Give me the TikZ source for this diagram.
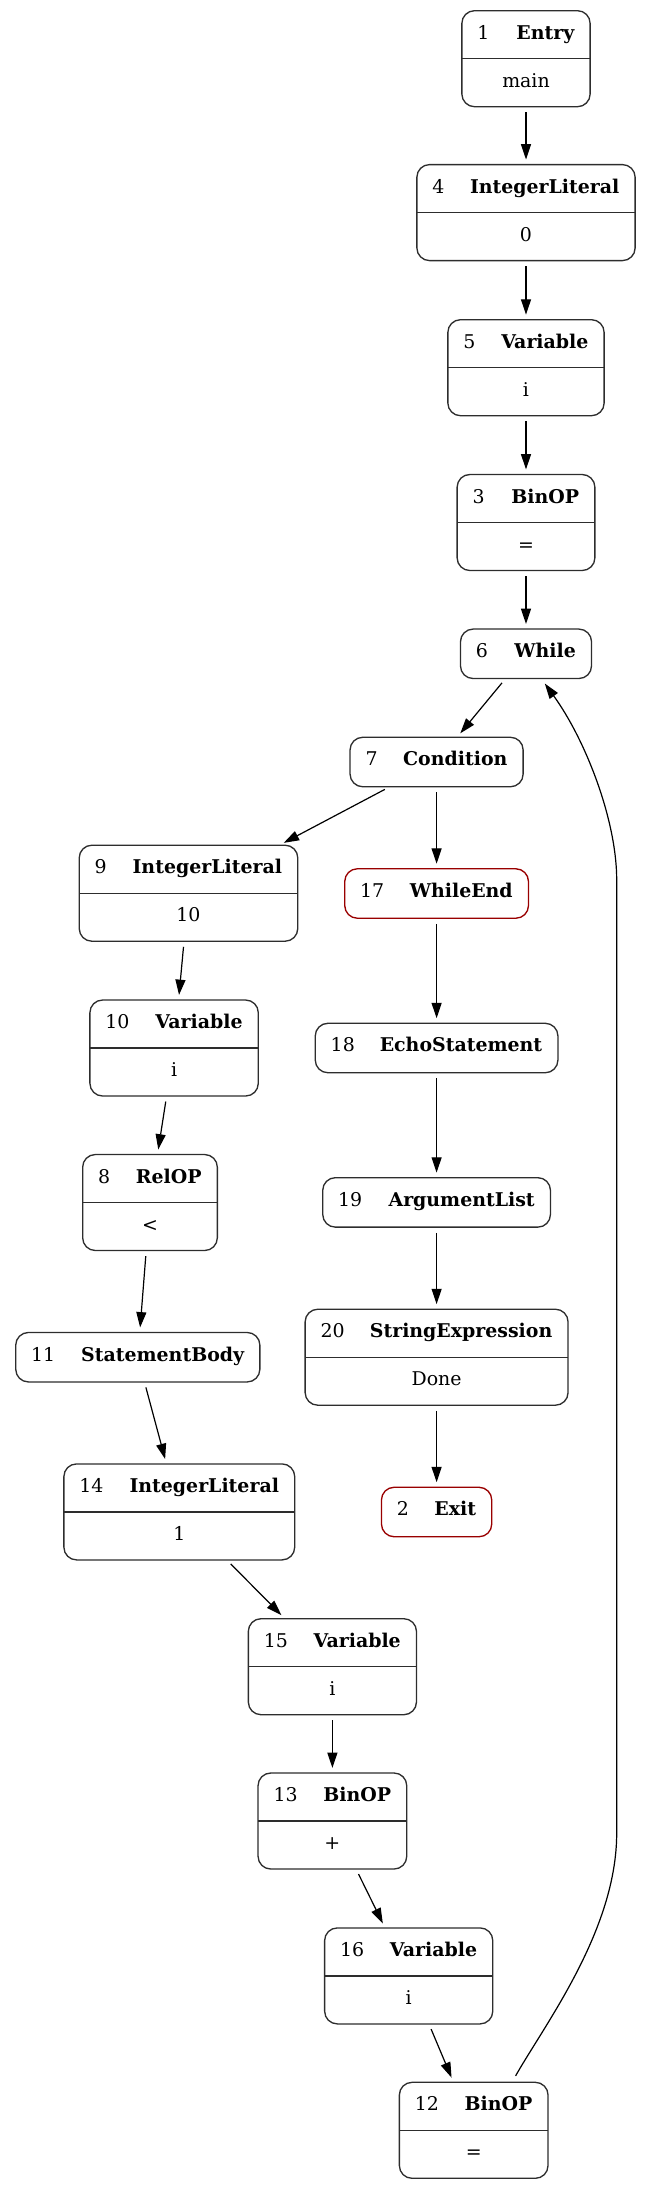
\documentclass[tikz,border=0pt]{standalone}
\usepackage{fontspec}
\setmainfont{DejaVu Serif}
\usetikzlibrary{arrows.meta,calc}
\definecolor{boxgray}{RGB}{45,45,45}
\definecolor{endred}{RGB}{153,0,0}
\tikzset{
 cfgbox/.style={draw=boxgray, line width=1pt, rounded corners=9.5pt, inner sep=0pt, outer sep=0pt, minimum height=72pt},
 cfgsingle/.style={cfgbox, minimum height=37.1pt},
 cfgred/.style={draw=endred},
 numtxt/.style={anchor=base west, inner sep=0pt, font=\fontsize{14.2pt}{17pt}\selectfont},
 nametxt/.style={anchor=base east, inner sep=0pt, font=\fontsize{14.2pt}{17pt}\selectfont\bfseries},
 valtxt/.style={anchor=base, inner sep=0pt, font=\fontsize{14.2pt}{17pt}\selectfont},
 divline/.style={draw=boxgray, line width=1pt},
 flow/.style={-{Triangle[length=11.5pt,width=7.5pt]}, line width=0.9pt, shorten <=4.2pt, shorten >=3.8pt},
}
\newcommand{\dblnode}[7]{%
 \node[cfgbox, minimum width=#4] (#1) at (#2,#3) {};
 \draw[divline] (#1.west) -- (#1.east);
 \node[numtxt] (#1-num) at ([xshift=11.4pt,yshift=-21.5pt]#1.north west) {#5};
 \node[nametxt] (#1-name) at ([xshift=-11.6pt,yshift=-21.5pt]#1.north east) {#6};
 \node[valtxt] (#1-val) at ([yshift=-21.5pt]#1.center) {#7};
}
\newcommand{\sglnode}[7]{%
 \node[cfgsingle, minimum width=#4, #7] (#1) at (#2,#3) {};
 \node[numtxt] (#1-num) at ([xshift=11.4pt,yshift=-21.5pt]#1.north west) {#5};
 \node[nametxt] (#1-name) at ([xshift=-11.6pt,yshift=-21.5pt]#1.north east) {#6};
}
\begin{document}
\begin{tikzpicture}[x=0.75pt,y=-0.75pt]
\useasboundingbox (0,0) rectangle (651,2189);
% column A
\dblnode{n1}{526}{58.7}{96.2pt}{1}{Entry}{main}
\dblnode{n4}{526}{212.6}{163.7pt}{4}{IntegerLiteral}{0}
\dblnode{n5}{526}{367.7}{117.2pt}{5}{Variable}{i}
\dblnode{n3}{526}{522.5}{103.3pt}{3}{BinOP}{=}
\sglnode{n6}{526}{653.8}{98.3pt}{6}{While}{}
% column B
\sglnode{n7}{436.6}{762}{129.8pt}{7}{Condition}{}
\sglnode{n17}{436.6}{893.5}{137.8pt}{17}{WhileEnd}{cfgred}
\sglnode{n18}{436.6}{1048}{182pt}{18}{EchoStatement}{}
\sglnode{n19}{436.6}{1202.4}{170.8pt}{19}{ArgumentList}{}
\dblnode{n20}{436.6}{1357.2}{197.2pt}{20}{StringExpression}{Done}
\sglnode{n2}{436.6}{1512}{82.7pt}{2}{Exit}{cfgred}
% loop body
\dblnode{n9}{188.5}{893.2}{163.9pt}{9}{IntegerLiteral}{10}
\dblnode{n10}{174.1}{1048}{126.3pt}{10}{Variable}{i}
\dblnode{n8}{150}{1202.5}{101pt}{8}{RelOP}{<}
\sglnode{n11}{137.8}{1357.2}{183.1pt}{11}{StatementBody}{}
\dblnode{n14}{179.3}{1511.9}{173.1pt}{14}{IntegerLiteral}{1}
\dblnode{n15}{332.4}{1666.7}{126.1pt}{15}{Variable}{i}
\dblnode{n13}{332.4}{1821}{111.5pt}{13}{BinOP}{+}
\dblnode{n16}{408.7}{1975.9}{126.1pt}{16}{Variable}{i}
\dblnode{n12}{473.7}{2130.3}{111.5pt}{12}{BinOP}{=}
% edges
\draw[flow] (n1) -- (n4);
\draw[flow] (n4) -- (n5);
\draw[flow] (n5) -- (n3);
\draw[flow] (n3) -- (n6);
\draw[flow] (n6) -- (n7);
\draw[flow] (n7) -- (n9);
\draw[flow] (n7) -- (n17);
\draw[flow] (n9) -- (n10);
\draw[flow] (n17) -- (n18);
\draw[flow] (n10) -- (n8);
\draw[flow] (n18) -- (n19);
\draw[flow] (n8) -- (n11);
\draw[flow] (n19) -- (n20);
\draw[flow] (n11) -- (n14);
\draw[flow] (n20) -- (n2);
\draw[flow] (n14) -- (n15);
\draw[flow] (n15) -- (n13);
\draw[flow] (n13) -- (n16);
\draw[flow] (n16) -- (n12);
\coordinate (back-start) at ([xshift=31.4pt,yshift=4.8pt]n12.north);
\coordinate (back-end) at ([xshift=14.1pt,yshift=-3.75pt]n6.south);
\draw[-{Triangle[length=11.5pt,width=7.5pt]}, line width=0.9pt] (back-start) .. controls (545,2024) and (616.7,1930) .. (616.7,1833) -- (616.7,880) .. controls (616.7,820) and (585.6,740) .. (back-end);
\end{tikzpicture}
\end{document}
